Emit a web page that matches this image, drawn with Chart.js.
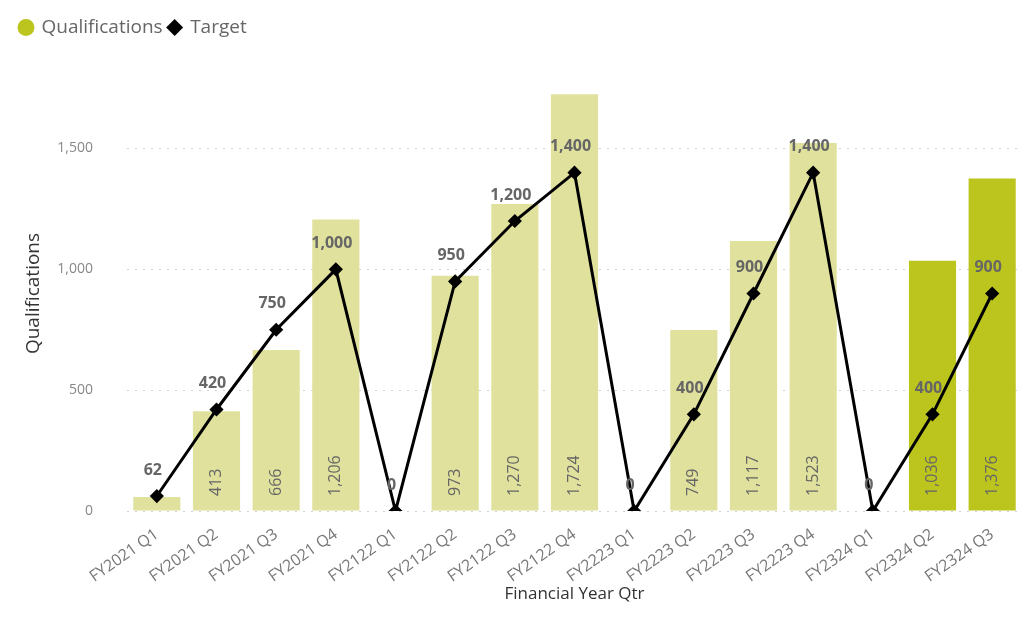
<!DOCTYPE html>
<html>
<head>
<meta charset="utf-8">
<script src="https://cdn.jsdelivr.net/npm/chart.js@4.4.0/dist/chart.umd.min.js"></script>
<style>
  html, body { margin: 0; padding: 0; background: #fff; }
  #wrap { width: 1026px; height: 628px; }
</style>
</head>
<body>
<div id="wrap"><canvas id="qualChart"></canvas></div>
<script>
// quarters on the x axis
const quarters = [
  "FY2021 Q1", "FY2021 Q2", "FY2021 Q3", "FY2021 Q4",
  "FY2122 Q1", "FY2122 Q2", "FY2122 Q3", "FY2122 Q4",
  "FY2223 Q1", "FY2223 Q2", "FY2223 Q3", "FY2223 Q4",
  "FY2324 Q1", "FY2324 Q2", "FY2324 Q3"
];
const qualifications = [58, 413, 666, 1206, 0, 973, 1270, 1724, 0, 749, 1117, 1523, 0, 1036, 1376];
const target = [62, 420, 750, 1000, 0, 950, 1200, 1400, 0, 400, 900, 1400, 0, 400, 900];
const yTicks = [0, 500, 1000, 1500];

const paleBar = "#dfe19c";
const strongBar = "#bcc41e";
const barColours = quarters.map((q, i) => (i >= 13 ? strongBar : paleBar));

const fmt = v => v.toLocaleString("en-US");

// leave some room under the legend
const legendGap = {
  id: "legendGap",
  beforeInit(chart) {
    const fit = chart.legend.fit;
    chart.legend.fit = function () {
      fit.bind(chart.legend)();
      this.height += 29;
    };
  }
};

// value labels: rotated inside the bars, above the target points
const valueLabels = {
  id: "valueLabels",
  afterDatasetsDraw(chart) {
    const ctx = chart.ctx;
    const base = chart.scales.y.getPixelForValue(0);

    ctx.save();
    ctx.fillStyle = "#666";
    ctx.font = "16px 'Open Sans', sans-serif";
    chart.getDatasetMeta(0).data.forEach((bar, i) => {
      if (base - bar.y < 45) return;
      ctx.save();
      ctx.translate(bar.x, base - 15);
      ctx.rotate(-Math.PI / 2);
      ctx.textAlign = "left";
      ctx.textBaseline = "middle";
      ctx.fillText(fmt(qualifications[i]), 0, 0);
      ctx.restore();
    });

    ctx.font = "bold 16px 'Open Sans', sans-serif";
    ctx.textAlign = "center";
    ctx.textBaseline = "middle";
    chart.getDatasetMeta(1).data.forEach((pt, i) => {
      ctx.fillText(fmt(target[i]), pt.x - 4, pt.y - 26);
    });
    ctx.restore();
  }
};

new Chart("qualChart", {
  data: {
    labels: quarters,
    datasets: [
      {
        type: "bar",
        label: "Qualifications",
        data: qualifications,
        backgroundColor: barColours,
        borderWidth: 0,
        categoryPercentage: 0.79,
        barPercentage: 1,
        order: 1
      },
      {
        type: "line",
        label: "Target",
        data: target,
        borderColor: "#000",
        backgroundColor: "#000",
        borderWidth: 3,
        pointStyle: "rectRot",
        pointRadius: 5,
        pointBackgroundColor: "#000",
        tension: 0,
        order: 0
      }
    ]
  },
  options: {
    responsive: true,
    maintainAspectRatio: false,
    animation: false,
    layout: { autoPadding: false, padding: { left: 14, right: 4, top: 12, bottom: 22 } },
    plugins: {
      legend: {
        display: true,
        position: "top",
        align: "start",
        labels: {
          usePointStyle: true,
          boxWidth: 12,
          boxHeight: 12,
          padding: 6,
          color: "#666",
          font: { family: "'Open Sans', sans-serif", size: 19 },
          generateLabels() {
            return [
              { text: "Qualifications", fillStyle: strongBar, strokeStyle: strongBar, lineWidth: 0, pointStyle: "circle", datasetIndex: 0, fontColor: "#666" },
              { text: "Target", fillStyle: "#000", strokeStyle: "#000", lineWidth: 0, pointStyle: "rectRot", datasetIndex: 1, fontColor: "#666" }
            ];
          }
        }
      },
      tooltip: { enabled: false }
    },
    scales: {
      x: {
        afterFit(scale) {
          scale.height = 95;
        },
        grid: { display: false },
        border: { display: false },
        ticks: {
          color: "#777",
          font: { family: "'Open Sans', sans-serif", size: 16 },
          minRotation: 35,
          maxRotation: 35,
          padding: 6
        },
        title: {
          display: true,
          text: "Financial Year Qtr",
          color: "#333",
          font: { family: "'Open Sans', sans-serif", size: 17 },
          padding: { top: 0, bottom: 2 }
        }
      },
      y: {
        min: 0,
        max: 1800,
        afterBuildTicks(scale) {
          scale.ticks = yTicks.map(v => ({ value: v }));
        },
        afterFit(scale) {
          scale.width = 113;
        },
        grid: {
          color: "#d2d2d2",
          lineWidth: 1,
          drawTicks: false
        },
        border: { display: false, dash: [2, 6] },
        ticks: {
          color: "#888",
          font: { family: "'Open Sans', sans-serif", size: 14 },
          padding: 34,
          callback: v => fmt(v)
        },
        title: {
          display: true,
          text: "Qualifications",
          color: "#333",
          font: { family: "'Open Sans', sans-serif", size: 19 },
          padding: { top: 8, bottom: 8 }
        }
      }
    }
  },
  plugins: [legendGap, valueLabels]
});
</script>
</body>
</html>
